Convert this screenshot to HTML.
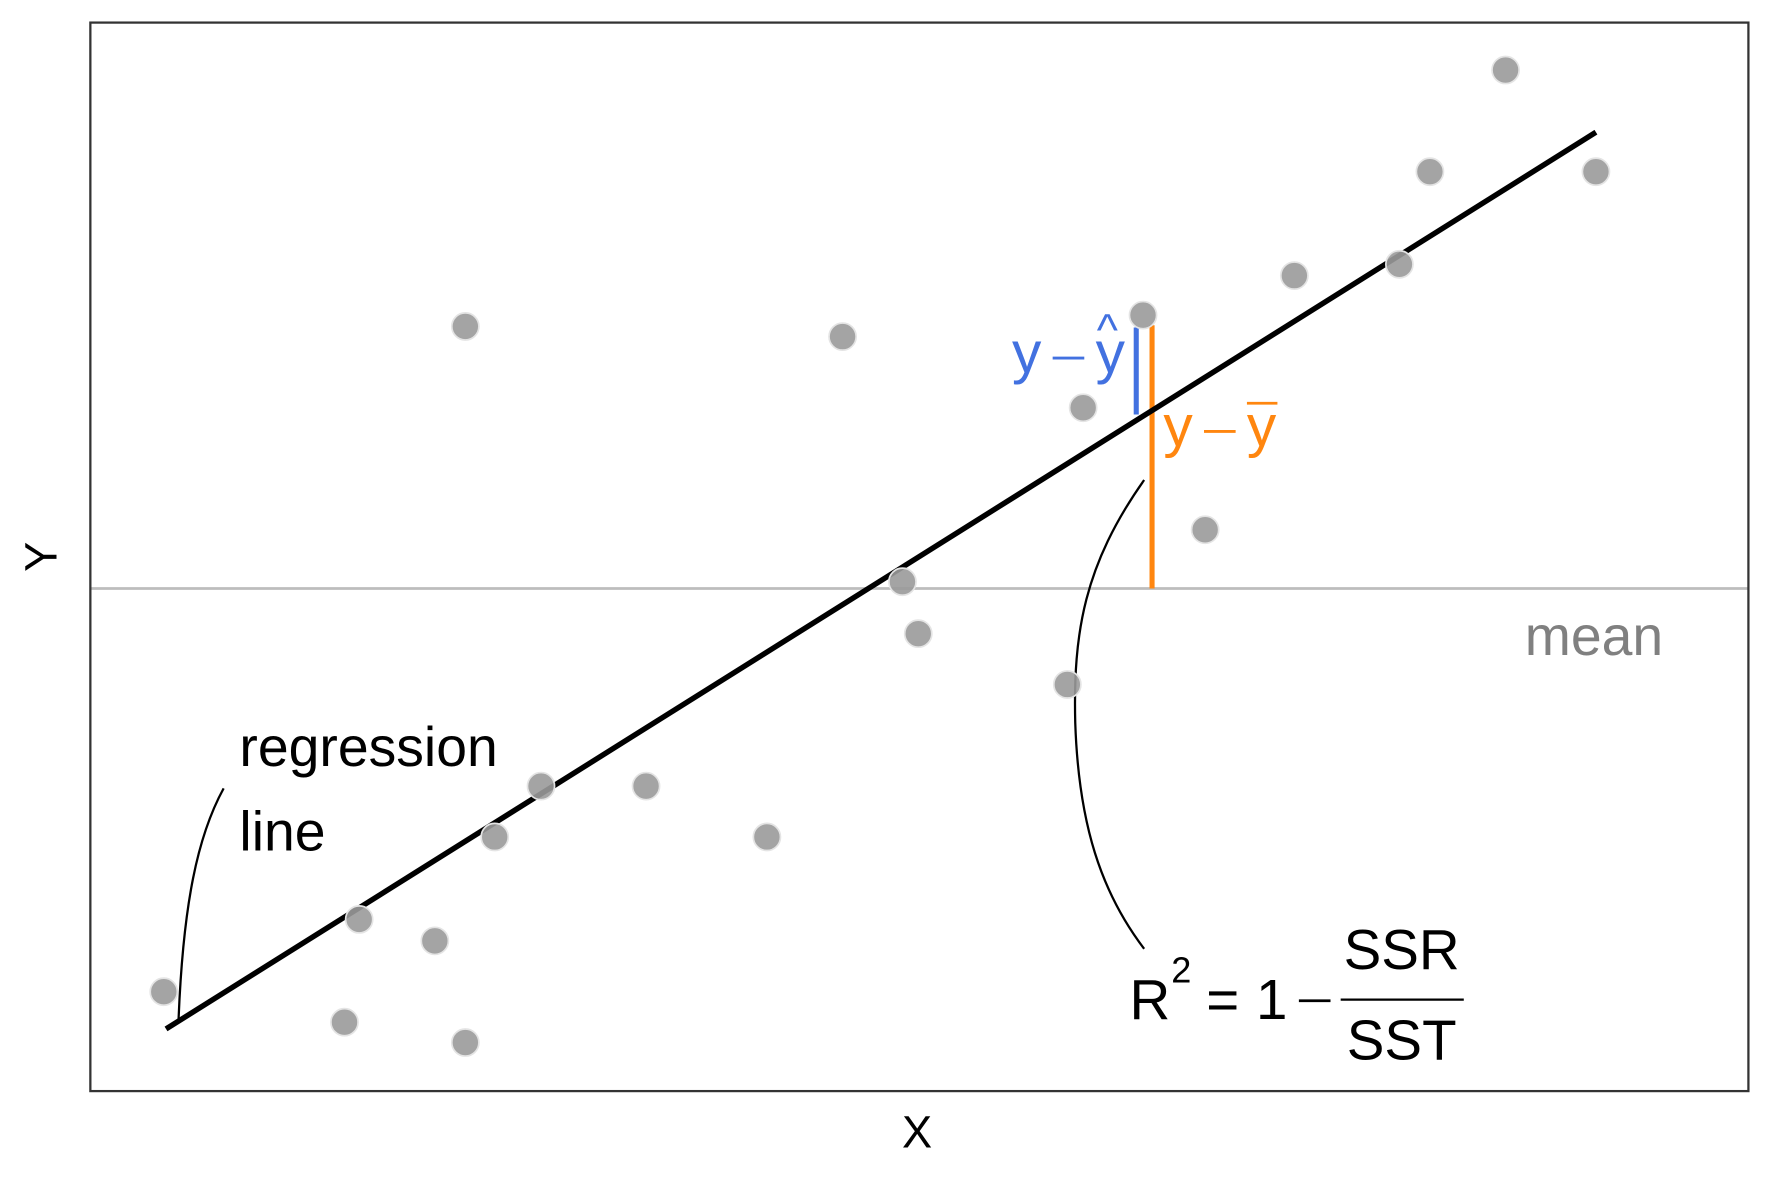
<!DOCTYPE html>
<html><head><style>html,body{margin:0;padding:0;background:#fff}svg{display:block}</style></head>
<body>
<svg width="1771" height="1181" viewBox="0 0 1568 1045.6" preserveAspectRatio="none" xmlns="http://www.w3.org/2000/svg" font-family="Liberation Sans, Arial, sans-serif">
<rect x="0" y="0" width="1568" height="1046" fill="#fff"/>
<line x1="80" y1="521" x2="1548" y2="521" stroke="#bdbdbd" stroke-width="2.4"/>
<line x1="1006" y1="290" x2="1006" y2="367" stroke="#4271e0" stroke-width="4.5"/>
<line x1="1020" y1="288" x2="1020" y2="521" stroke="#ff860f" stroke-width="4.5"/>
<line x1="147" y1="911" x2="1413" y2="117" stroke="#000" stroke-width="4.8"/>
<path d="M198,698 C175,740 162,800 158,905" fill="none" stroke="#000" stroke-width="2"/>
<path d="M1013,425 C960,500 950,560 952,640 C955,730 975,790 1013,840" fill="none" stroke="#000" stroke-width="2"/>
<g fill="#9a9a9a" fill-opacity="0.9" stroke="#e4e4e4" stroke-width="1.5">
<circle cx="145" cy="878" r="12"/><circle cx="305" cy="905" r="12"/><circle cx="318" cy="814" r="12"/>
<circle cx="385" cy="833" r="12"/><circle cx="412" cy="923" r="12"/><circle cx="412" cy="289" r="12"/>
<circle cx="438" cy="741" r="12"/><circle cx="479" cy="696" r="12"/><circle cx="572" cy="696" r="12"/>
<circle cx="679" cy="741" r="12"/><circle cx="746" cy="298" r="12"/><circle cx="799" cy="515" r="12"/>
<circle cx="813" cy="561" r="12"/><circle cx="945" cy="606" r="12"/><circle cx="959" cy="361" r="12"/>
<circle cx="1012" cy="279" r="12"/><circle cx="1067" cy="469" r="12"/><circle cx="1146" cy="244" r="12"/>
<circle cx="1239" cy="234" r="12"/><circle cx="1266" cy="152" r="12"/><circle cx="1333" cy="62" r="12"/>
<circle cx="1413" cy="152" r="12"/>
</g>
<rect x="80" y="20" width="1468" height="946" fill="none" stroke="#333" stroke-width="2"/>
<text x="1350" y="580" font-size="49" fill="#808080">mean</text>
<text x="212" y="678" font-size="49" fill="#000">regression</text>
<text x="212" y="753" font-size="49" fill="#000">line</text>
<g fill="#4271e0" font-size="52">
<text x="896" y="330">y</text>
<line x1="932" y1="317" x2="960" y2="317" stroke="#4271e0" stroke-width="2.5"/>
<text x="970" y="330">y</text>
<text x="971" y="306" font-size="40">^</text>
</g>
<g fill="#ff860f" font-size="52">
<text x="1030" y="395">y</text>
<line x1="1066" y1="382" x2="1094" y2="382" stroke="#ff860f" stroke-width="2.5"/>
<text x="1104" y="395">y</text>
<line x1="1104" y1="357" x2="1131" y2="357" stroke="#ff860f" stroke-width="2.5"/>
</g>
<g fill="#000" font-size="50">
<text x="1000" y="902">R</text>
<text x="1037" y="870" font-size="32">2</text>
<text x="1068" y="902">=</text>
<text x="1112" y="902">1</text>
<line x1="1150" y1="886" x2="1178" y2="886" stroke="#000" stroke-width="2.5"/>
<line x1="1187" y1="885" x2="1296" y2="885" stroke="#000" stroke-width="2"/>
<text x="1241" y="858" text-anchor="middle">SSR</text>
<text x="1241" y="938" text-anchor="middle">SST</text>
</g>
<text x="812" y="1016" font-size="40" text-anchor="middle" fill="#000">X</text>
<text transform="translate(50,493) rotate(-90)" font-size="40" text-anchor="middle" fill="#000">Y</text>
</svg>
</body></html>
